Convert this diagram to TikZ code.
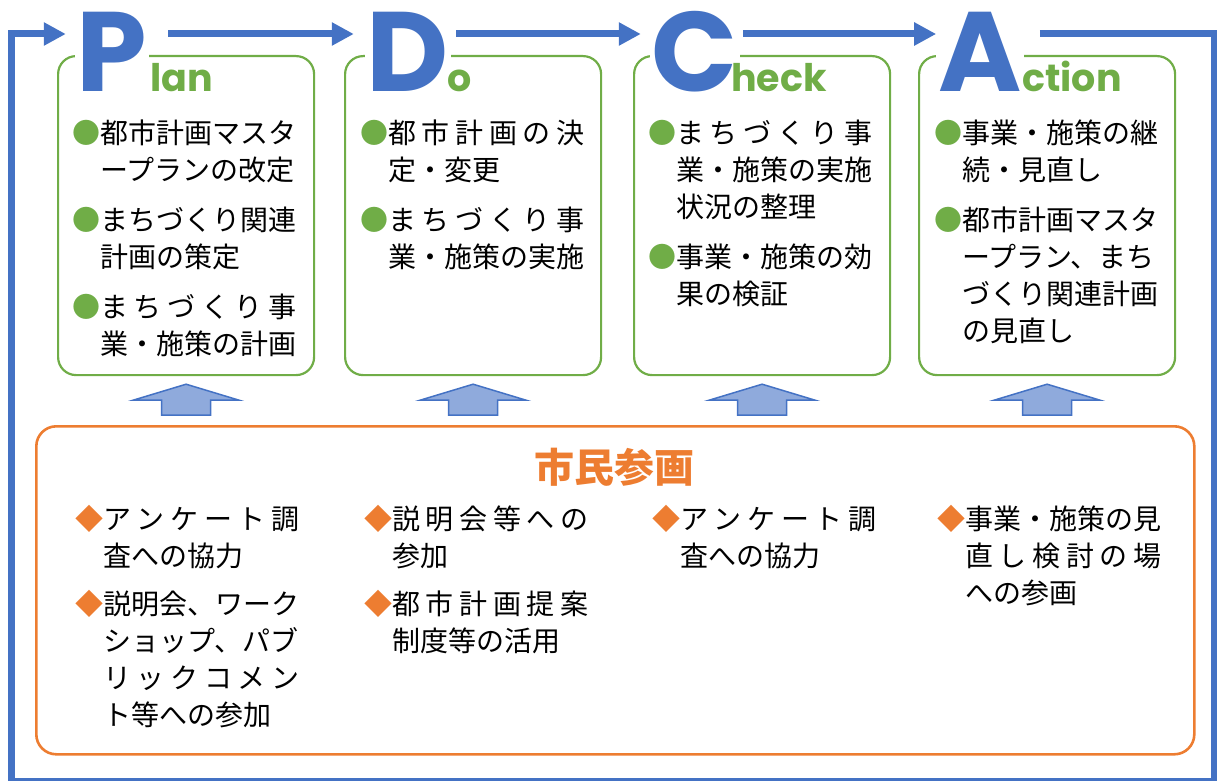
\documentclass[tikz,border=0pt]{standalone}
\usepackage{fontspec}
\setmainfont{Noto Sans CJK JP}
\newfontfamily\pdcafont{Poppins}
\usetikzlibrary{arrows.meta,positioning}

\definecolor{azul}{HTML}{4472C4}
\definecolor{azulclaro}{HTML}{8FAADC}
\definecolor{verde}{HTML}{70AD47}
\definecolor{naranja}{HTML}{ED7D31}

\newcommand{\gbul}{\textcolor{verde}{●}}
\newcommand{\obul}{\textcolor{naranja}{◆}}
\newcommand{\ind}{\hspace*{1em}}
\newcommand{\sline}[1]{\hbox to 7em{#1}}
\newcommand{\tope}{\rule{0pt}{26pt}}
\newcommand{\letra}[1]{{\setlength{\fboxsep}{2pt}%
  \setbox0=\hbox{#1}\dp0=0pt\ht0=80pt\colorbox{white}{\box0}}}

\begin{document}
\begin{tikzpicture}[x=1pt, y=-1pt,
    gbox/.style={draw=verde, line width=2.2pt, rounded corners=18pt,
      minimum width=256pt, minimum height=319pt, anchor=north west},
    obox/.style={draw=naranja, line width=2.6pt, rounded corners=20pt,
      minimum width=1158pt, minimum height=328pt, anchor=north west},
    txt/.style={align=left, inner sep=0pt, anchor=north west,
      font=\fontsize{28}{37}\selectfont, execute at begin node=\tope},
    letra/.style={font=\pdcafont\bfseries\fontsize{113}{113}\selectfont,
      text=azul, inner sep=0pt, minimum width=102pt, anchor=base},
    sub/.style={font=\pdcafont\bfseries\fontsize{38}{38}\selectfont,
      text=verde, inner sep=0pt, anchor=base west},
    flujo/.style={draw=azul, line width=7pt,
      -{Triangle[length=22pt, width=22pt]}},
    flechaup/.style={draw=azul, fill=azulclaro, line width=1.5pt,
      line join=miter}]
  \useasboundingbox (0,0) rectangle (1217,781);

  % Cajas PDCA
  \node[gbox] (planbox) at (57,55) {};
  \node[gbox] (dobox) at (344,55) {};
  \node[gbox] (checkbox) at (633,55) {};
  \node[gbox] (actionbox) at (918,55) {};

  % Letras
  \node[letra] (P) at (117,92) {\letra{P}\kern10pt};
  \node[letra] (D) at (405,92) {\kern6pt\letra{D}};
  \node[letra] (C) at (692,92) {\kern6pt\letra{C}};
  \node[letra] (A) at (988,92) {\letra{A}\kern16pt};
  \node[sub] (subP) at (150,92) {lan};
  \node[sub] (subD) at (447,92) {o};
  \node[sub] (subC) at (731,92) {heck};
  \node[sub] (subA) at (1022,92) {ction};

  % Ciclo
  \coordinate (top) at (0,34);
  \coordinate (esqR) at (1214,781);
  \coordinate (esqL) at (11,34);
  \draw[flujo] (P.east |- top) -- (D.west |- top);
  \draw[flujo] (D.east |- top) -- (C.west |- top);
  \draw[flujo] (C.east |- top) -- (A.west |- top);
  \draw[flujo] (A.east |- top) -| (esqR) -| (esqL) -- (P.west |- top);

  % Contenido
  \node[txt] (plantxt) at (72,119.6) {%
    \gbul 都市計画マスタ\\
    \ind ープランの改定\\[13pt]
    \gbul まちづくり関連\\
    \ind 計画の策定\\[13pt]
    \gbul\sline{ま\hfil ち\hfil づ\hfil く\hfil り\hfil 事}\\
    \ind 業・施策の計画};
  \node[txt] (dotxt) at (360,119.6) {%
    \gbul\sline{都\hfil 市\hfil 計\hfil 画\hfil の\hfil 決}\\
    \ind 定・変更\\[13pt]
    \gbul\sline{ま\hfil ち\hfil づ\hfil く\hfil り\hfil 事}\\
    \ind 業・施策の実施};
  \node[txt] (checktxt) at (648,119.6) {%
    \gbul\sline{ま\hfil ち\hfil づ\hfil く\hfil り\hfil 事}\\
    \ind 業・施策の実施\\
    \ind 状況の整理\\[13pt]
    \gbul 事業・施策の効\\
    \ind 果の検証};
  \node[txt] (actiontxt) at (934,119.6) {%
    \gbul 事業・施策の継\\
    \ind 続・見直し\\[13pt]
    \gbul 都市計画マスタ\\
    \ind ープラン、まち\\
    \ind づくり関連計画\\
    \ind の見直し};

  % Flechas hacia arriba
  \foreach \b in {planbox,dobox,checkbox,actionbox}
    \filldraw[flechaup] (\b.south) ++(0,8) -- ++(53,16) -- ++(-28.5,0)
      -- ++(0,15) -- ++(-49,0) -- ++(0,-15) -- ++(-28.5,0) -- cycle;

  % Participacion ciudadana
  \node[obox] (sankabox) at (35,425) {};
  \node[font=\bfseries\fontsize{40}{40}\selectfont, text=naranja] (sanka)
    at (614,467) {市民参画};
  \node[txt] (col1) at (75,504.6) {%
    \obul\sline{ア\hfil ン\hfil ケ\hfil ー\hfil ト\hfil 調}\\
    \ind 査への協力\\[11pt]
    \obul 説明会、ワーク\\
    \ind ショップ、パブ\\
    \ind\sline{リ\hfil ッ\hfil ク\hfil コ\hfil メ\hfil ン}\\
    \ind ト等への参加};
  \node[txt] (col2) at (364,504.6) {%
    \obul\sline{説\hfil 明\hfil 会\hfil 等\hfil へ\hfil の}\\
    \ind 参加\\[11pt]
    \obul\sline{都\hfil 市\hfil 計\hfil 画\hfil 提\hfil 案}\\
    \ind 制度等の活用};
  \node[txt] (col3) at (652,504.6) {%
    \obul\sline{ア\hfil ン\hfil ケ\hfil ー\hfil ト\hfil 調}\\
    \ind 査への協力};
  \node[txt] (col4) at (937,504.6) {%
    \obul 事業・施策の見\\
    \ind\sline{直\hfil し\hfil 検\hfil 討\hfil の\hfil 場}\\
    \ind への参画};
\end{tikzpicture}
\end{document}
